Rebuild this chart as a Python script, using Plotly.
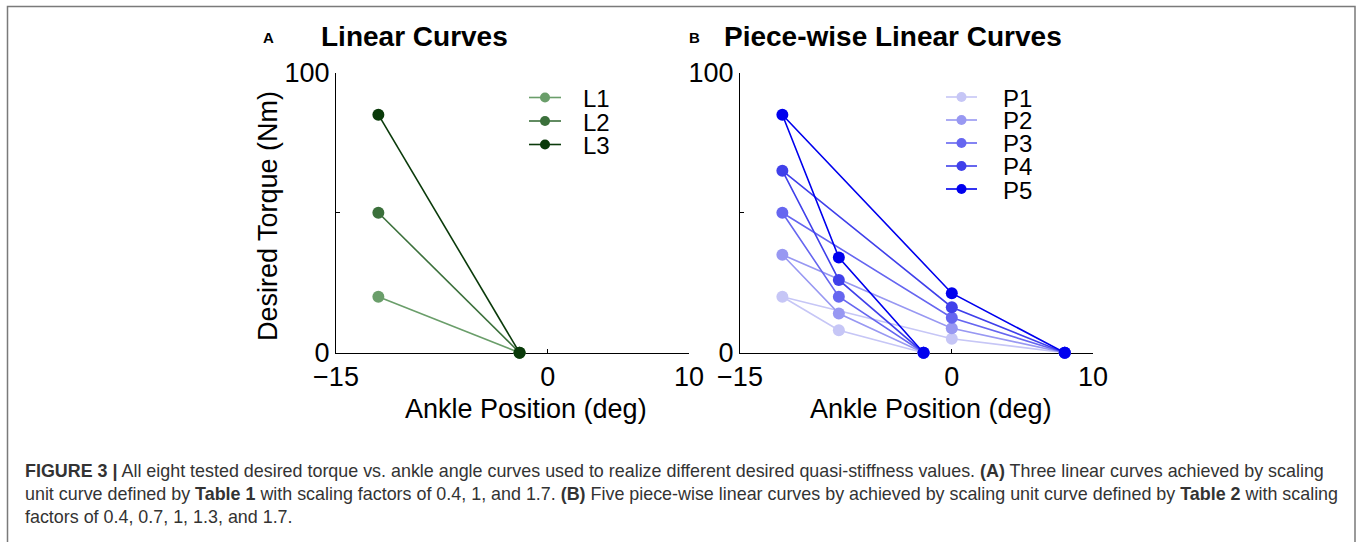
import plotly.graph_objects as go

# ---------------- data ----------------
lin_x = [-12, -2]
lin_names = ["L1", "L2", "L3"]
lin_y = {
    "L1": [20, 0],
    "L2": [50, 0],
    "L3": [85, 0],
}
lin_colors = ["#6a9e6a", "#3b703b", "#0a3a0a"]

# piece-wise curves: path (-2,0) <- (-8,.) <- (-12,.) -> (0,.) -> (8,0)
pw_x = [-2, -8, -12, 0, 8]
pw_names = ["P1", "P2", "P3", "P4", "P5"]
pw_y = {
    "P1": [0, 8, 20, 5, 0],
    "P2": [0, 14, 35, 8.75, 0],
    "P3": [0, 20, 50, 12.5, 0],
    "P4": [0, 26, 65, 16.25, 0],
    "P5": [0, 34, 85, 21.25, 0],
}
pw_colors = ["#c6c6f6", "#9898f2", "#6666f0", "#4040ea", "#0000ee"]

x_ticks = [-15, 0, 10]
x_ticktext = ["\u221215", "0", "10"]
y_ticks = [0, 50, 100]
y_ticktext = ["0", "", "100"]

W, H = 1360, 542
FONT = "Liberation Sans, Arial, Helvetica, sans-serif"


def px(p):
    return p / W


def py(p):
    return 1 - p / H


fig = go.Figure()

for name, col in zip(lin_names, lin_colors):
    fig.add_trace(go.Scatter(
        x=lin_x, y=lin_y[name], mode="lines+markers", name=name,
        line=dict(color=col, width=1.6),
        marker=dict(color=col, size=12),
        cliponaxis=False, showlegend=False,
        xaxis="x", yaxis="y"))

for name, col in zip(pw_names, pw_colors):
    fig.add_trace(go.Scatter(
        x=pw_x, y=pw_y[name], mode="lines+markers", name=name,
        line=dict(color=col, width=1.6),
        marker=dict(color=col, size=12),
        cliponaxis=False, showlegend=False,
        xaxis="x2", yaxis="y2"))

ydom = [py(352.7), py(72.7)]
axis_common = dict(
    showline=True, linecolor="black", linewidth=1.2,
    ticks="inside", ticklen=4, tickcolor="black", tickwidth=1,
    showgrid=False, zeroline=False, layer="below traces", automargin=False,
    tickfont=dict(family=FONT, size=27, color="black"),
)

fig.update_layout(
    width=W, height=H, autosize=False,
    margin=dict(l=0, r=0, t=0, b=0, pad=0, autoexpand=False),
    paper_bgcolor="white", plot_bgcolor="white",
    showlegend=False,
    xaxis=dict(domain=[px(336), px(689)], range=[-15, 10],
               tickvals=x_ticks, ticktext=x_ticktext, anchor="y", **axis_common),
    yaxis=dict(domain=ydom, range=[0, 100],
               tickvals=y_ticks, ticktext=y_ticktext, anchor="x", **axis_common),
    xaxis2=dict(domain=[px(740), px(1093)], range=[-15, 10],
                tickvals=x_ticks, ticktext=x_ticktext, anchor="y2", **axis_common),
    yaxis2=dict(domain=ydom, range=[0, 100],
                tickvals=y_ticks, ticktext=y_ticktext, anchor="x2", **axis_common),
)

ann = []
shapes = []

# figure border
shapes.append(dict(type="rect", xref="paper", yref="paper",
                   x0=px(7.5), x1=px(1355), y0=-0.05, y1=py(6.5),
                   line=dict(color="#7a7a7a", width=1.5), layer="above"))

# panel labels and titles
ann.append(dict(text="<b>A</b>", x=px(268), y=py(38), xanchor="center", yanchor="middle",
                font=dict(family=FONT, size=15, color="black")))
ann.append(dict(text="<b>Linear Curves</b>", x=px(319), y=py(37), xanchor="left", yanchor="middle",
                font=dict(family=FONT, size=28, color="black")))
ann.append(dict(text="<b>B</b>", x=px(694), y=py(38), xanchor="center", yanchor="middle",
                font=dict(family=FONT, size=15, color="black")))
ann.append(dict(text="<b>Piece-wise Linear Curves</b>", x=px(722), y=py(37), xanchor="left",
                yanchor="middle", font=dict(family=FONT, size=28, color="black")))

# axis titles
ann.append(dict(text="Desired Torque (Nm)", x=px(268), y=py(216), textangle=-90,
                xanchor="center", yanchor="middle",
                font=dict(family=FONT, size=27, color="black")))
ann.append(dict(text="Ankle Position (deg)", x=px(526), y=py(409), xanchor="center",
                yanchor="middle", font=dict(family=FONT, size=27, color="black")))
ann.append(dict(text="Ankle Position (deg)", x=px(931), y=py(409), xanchor="center",
                yanchor="middle", font=dict(family=FONT, size=27, color="black")))


# legends (drawn)
def legend(names, colors, x_line0, x_line1, x_text, y0, dy):
    for i, (n, c) in enumerate(zip(names, colors)):
        yy = y0 + i * dy
        shapes.append(dict(type="line", xref="paper", yref="paper",
                           x0=px(x_line0), x1=px(x_line1), y0=py(yy), y1=py(yy),
                           line=dict(color=c, width=1.6)))
        xc = (x_line0 + x_line1) / 2
        shapes.append(dict(type="circle", xref="paper", yref="paper",
                           xsizemode="pixel", ysizemode="pixel",
                           xanchor=px(xc), yanchor=py(yy),
                           x0=-5, x1=5, y0=-5, y1=5,
                           fillcolor=c, line=dict(color=c, width=0)))
        ann.append(dict(text=n, x=px(x_text), y=py(yy + 1), xanchor="left", yanchor="middle",
                        font=dict(family=FONT, size=24, color="black")))


legend(lin_names, lin_colors, 529, 561, 581, 97.5, 23.5)
legend(pw_names, pw_colors, 946, 977, 1001, 97, 23)

# caption
cap_font = dict(family=FONT, size=17.9, color="#333333")
caption = [
    "<b>FIGURE 3 |</b> All eight tested desired torque vs. ankle angle curves used to realize "
    "different desired quasi-stiffness values. <b>(A)</b> Three linear curves achieved by scaling",
    "unit curve defined by <b>Table 1</b> with scaling factors of 0.4, 1, and 1.7. <b>(B)</b> Five "
    "piece-wise linear curves by achieved by scaling unit curve defined by <b>Table 2</b> with scaling",
    "factors of 0.4, 0.7, 1, 1.3, and 1.7.",
]
for i, line in enumerate(caption):
    ann.append(dict(text=line, x=px(22.5), y=py(471 + i * 23), xanchor="left", yanchor="middle",
                    font=cap_font))

for a in ann:
    a.update(xref="paper", yref="paper", showarrow=False)

fig.update_layout(annotations=ann, shapes=shapes)

fig.write_html("out.html", config={"displayModeBar": False},
               post_script="document.body.style.margin='0';document.body.style.overflow='hidden';")
